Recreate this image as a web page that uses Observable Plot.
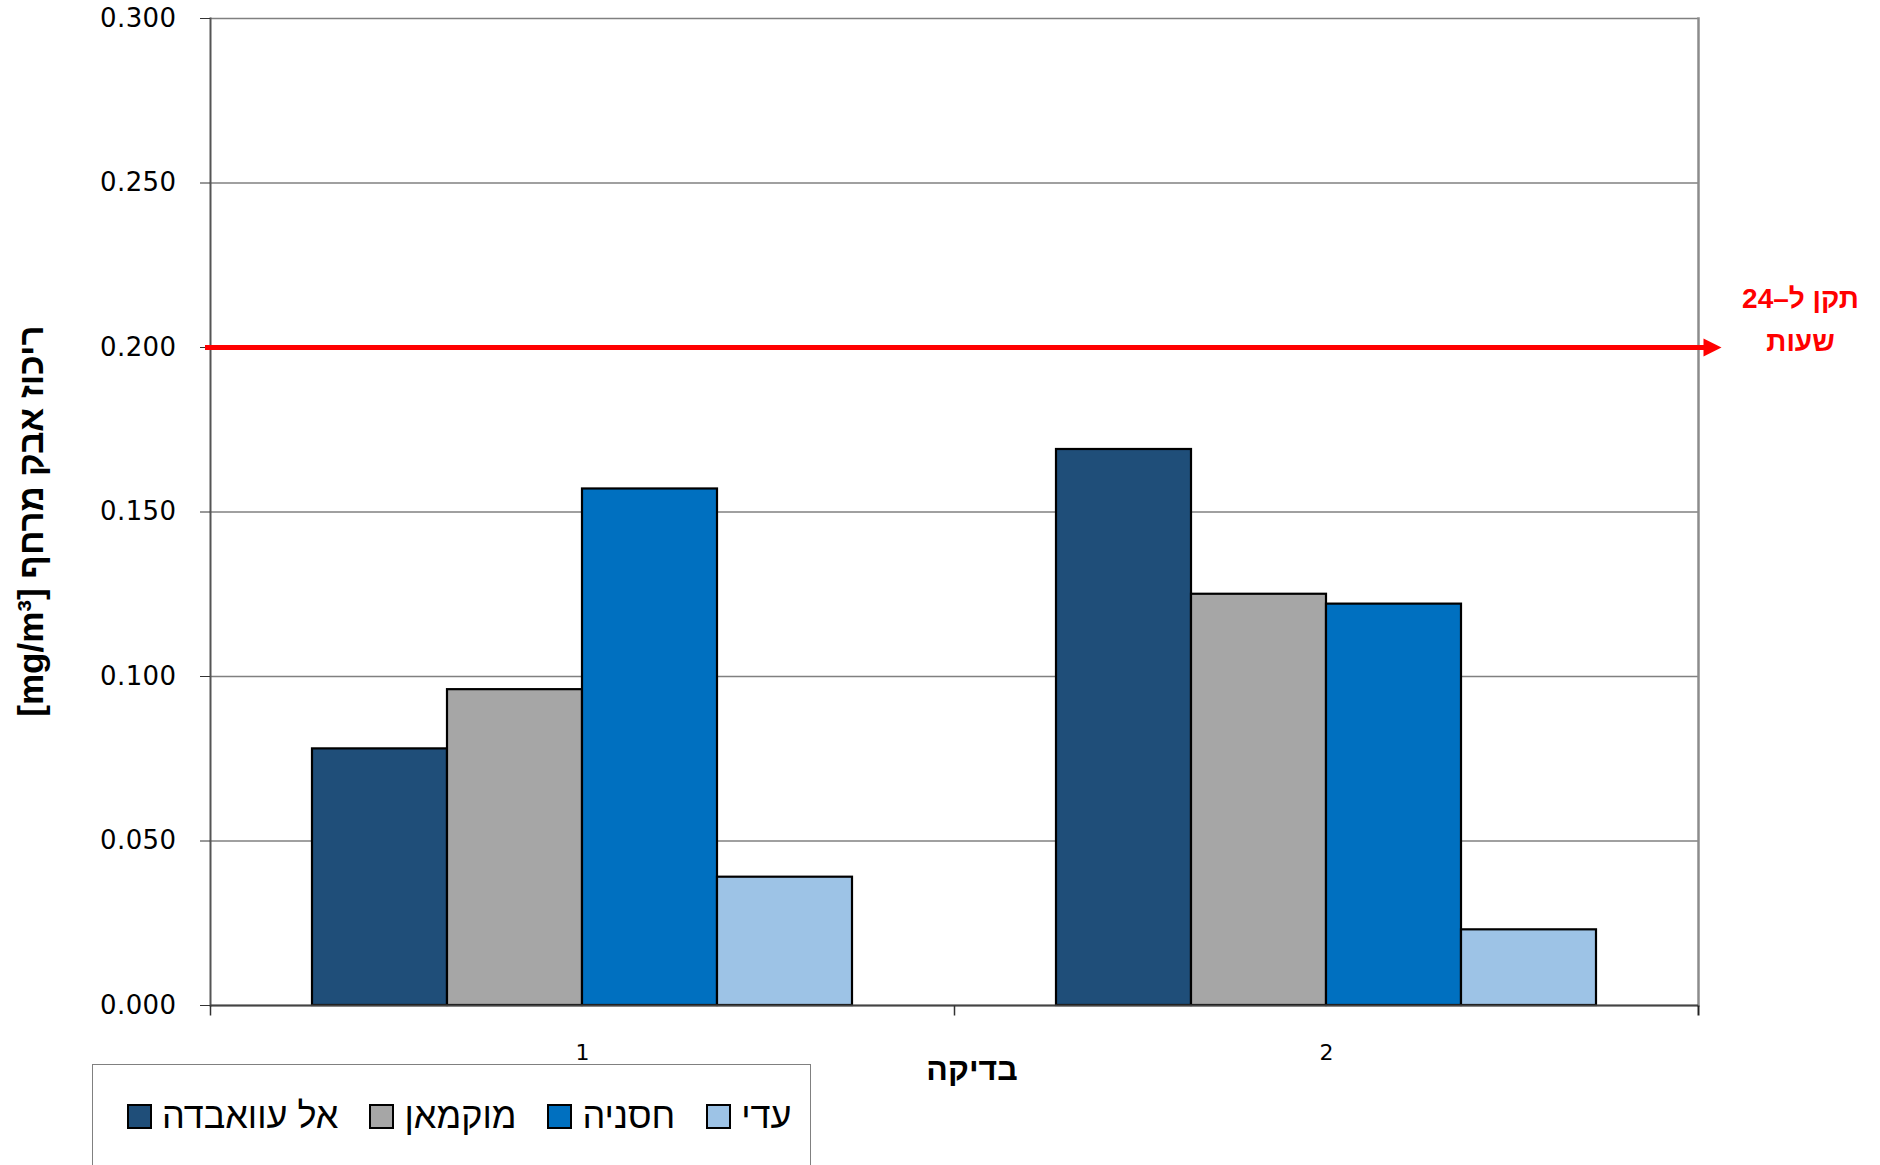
<!DOCTYPE html>
<html>
<head>
<meta charset="utf-8">
<script src="https://cdn.jsdelivr.net/npm/d3@7"></script>
<script src="https://cdn.jsdelivr.net/npm/@observablehq/plot@0.6"></script>
<style>
  html, body { margin: 0; padding: 0; background: #fff; }
  #wrap { position: relative; width: 1880px; height: 1165px; overflow: hidden; }
  #ytitle { position: absolute; left: 31px; top: 521px; transform: translate(-50%, -50%) rotate(-90deg);
    white-space: nowrap; font: bold 35px "Liberation Sans", "DejaVu Sans", sans-serif; color: #000; }
  #xtitle { position: absolute; left: 972px; top: 1051px; transform: translateX(-50%); line-height: 32px;
    white-space: nowrap; font: bold 32px "Liberation Sans", "DejaVu Sans", sans-serif; color: #000; }
  #legend { position: absolute; left: 92px; top: 1064px; width: 719px; height: 140px; box-sizing: border-box;
    border: 1.5px solid #808080; background: #fff; }
  #legend .row { position: absolute; left: 34px; top: 38px; height: 26px; display: flex; align-items: center; }
  #legend .item { display: flex; align-items: center; margin-right: 31px; }
  #legend .sw { width: 21px; height: 21px; border: 2px solid #000; margin-right: 10px; }
  #legend .lb { font: 36px "Liberation Sans", "DejaVu Sans", sans-serif; color: #000; white-space: nowrap; }
</style>
</head>
<body>
<div id="wrap">
  <div id="chart"></div>
  <div id="ytitle"></div>
  <div id="xtitle"></div>
  <div id="legend"><div class="row"></div></div>
</div>
<script>
// ---- data ----
const tests = ["1", "2"];
const sites = ["אל עוואבדה", "מוקמאן", "חסניה", "עדי"];
const siteColors = ["#1F4E79", "#A6A6A6", "#0070C0", "#9DC3E6"];
const test1Values = [0.078, 0.096, 0.157, 0.039];
const test2Values = [0.169, 0.125, 0.122, 0.023];
const yTicks = [0, 0.05, 0.1, 0.15, 0.2, 0.25, 0.3];
const limit = 0.2;
const limitLabel = "תקן ל–24\nשעות";
const yTitle = "[mg/m³] ריכוז אבק מרחף";
const xTitle = "בדיקה";

const rows = [];
sites.forEach((s, i) => rows.push({test: tests[0], site: s, value: test1Values[i]}));
sites.forEach((s, i) => rows.push({test: tests[1], site: s, value: test2Values[i]}));

const tickDown = {draw(ctx) { ctx.moveTo(0, 0); ctx.lineTo(0, 10); }};
const arrowHead = {draw(ctx) { ctx.moveTo(18, 0); ctx.lineTo(0, -9); ctx.lineTo(0, 9); ctx.closePath(); }};

const chart = Plot.plot({
  width: 1880,
  height: 1165,
  marginLeft: 210,
  marginRight: 182,
  marginTop: 18,
  marginBottom: 160,
  style: {fontFamily: "DejaVu Sans, sans-serif", background: "#fff", color: "#000"},
  fx: {domain: tests, padding: 0, label: null},
  x: {domain: sites, paddingInner: 0, paddingOuter: 0.75, axis: null},
  y: {domain: [0, 0.3], axis: null},
  color: {domain: sites, range: siteColors},
  marks: [
    Plot.gridY(yTicks, {stroke: "#808080", strokeOpacity: 1, strokeWidth: 1.6}),
    Plot.frame({anchor: "left", facetAnchor: "left", stroke: "#555", strokeWidth: 2}),
    Plot.frame({anchor: "right", facetAnchor: "right", stroke: "#8c8c8c", strokeWidth: 2.5}),
    Plot.barY(rows, {fx: "test", x: "site", y: "value", fill: "site", stroke: "#000", strokeWidth: 2.2}),
    Plot.ruleY([0], {stroke: "#444", strokeWidth: 2}),
    Plot.dot(tests, {fx: d => d, frameAnchor: "bottom-left", symbol: tickDown, fill: "none", stroke: "#333", strokeWidth: 1.5}),
    Plot.dot([tests[tests.length - 1]], {fx: d => d, frameAnchor: "bottom-right", symbol: tickDown, fill: "none", stroke: "#222", strokeWidth: 2}),
    Plot.axisY(yTicks, {tickFormat: d3.format(".3f"), tickSize: 10, tickPadding: 24, fontSize: 26, stroke: "#333", label: null}),
    Plot.axisFx({anchor: "bottom", tickSize: 0, tickPadding: 39, fontSize: 22, label: null}),
    Plot.ruleY([limit], {stroke: "#ff0000", strokeWidth: 5, insetLeft: -5, facetAnchor: "left"}),
    Plot.ruleY([limit], {stroke: "#ff0000", strokeWidth: 5, insetRight: -8, facetAnchor: "right"}),
    Plot.dot([limit], {y: d => d, frameAnchor: "right", dx: 5, symbol: arrowHead, fill: "#ff0000", stroke: "none", facetAnchor: "right"}),
    Plot.text([limit], {y: d => d, text: () => limitLabel, frameAnchor: "right", dx: 102, dy: -32,
      textAnchor: "middle", lineAnchor: "middle", lineHeight: 1.55, fill: "#ff0000", fontSize: 28,
      fontWeight: "bold", fontFamily: "Liberation Sans, DejaVu Sans, sans-serif", facetAnchor: "right"})
  ]
});
document.getElementById("chart").appendChild(chart);
chart.querySelectorAll('[aria-label="y-axis tick label"] text').forEach(t => t.setAttribute("letter-spacing", "0.4"));
document.getElementById("ytitle").textContent = yTitle;
document.getElementById("xtitle").textContent = xTitle;

const row = document.querySelector("#legend .row");
sites.forEach((s, i) => {
  const item = document.createElement("div");
  item.className = "item";
  const sw = document.createElement("div");
  sw.className = "sw";
  sw.style.background = siteColors[i];
  const lb = document.createElement("div");
  lb.className = "lb";
  lb.textContent = s;
  item.appendChild(sw);
  item.appendChild(lb);
  row.appendChild(item);
});
</script>
</body>
</html>
